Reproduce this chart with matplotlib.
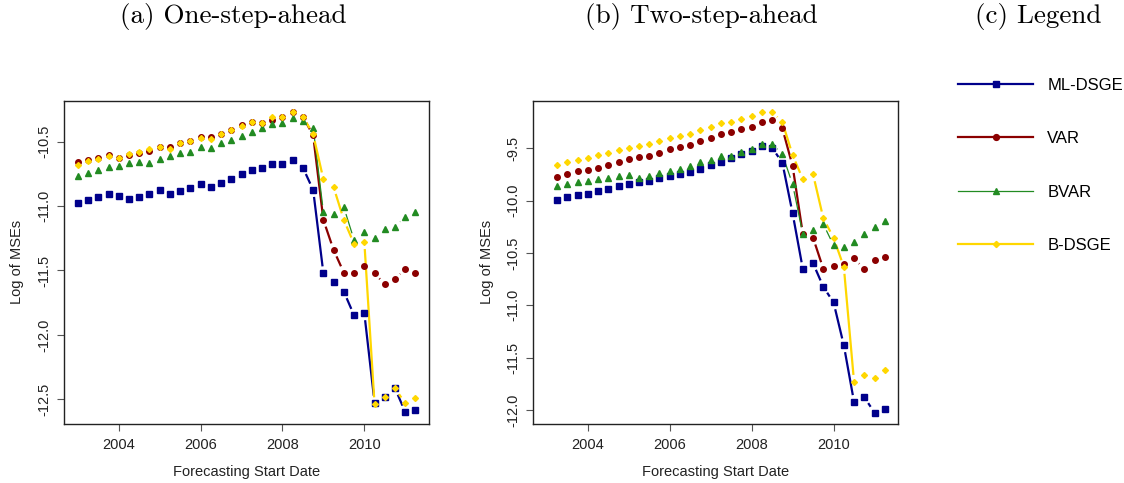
import numpy as np
import matplotlib
matplotlib.use("Agg")
import matplotlib.pyplot as plt
from matplotlib.collections import LineCollection
from matplotlib.lines import Line2D

# quarterly forecast start dates
dates_one = 2003 + 0.25 * np.arange(34)      # 2003Q1 .. 2011Q2
dates_two = 2003.25 + 0.25 * np.arange(33)   # 2003Q2 .. 2011Q2

# (a) one-step-ahead log MSEs
one_ml_dsge = [-10.974, -10.953, -10.927, -10.906, -10.922, -10.943, -10.927, -10.904, -10.875,
               -10.908, -10.880, -10.857, -10.828, -10.854, -10.823, -10.790, -10.753, -10.717,
               -10.702, -10.673, -10.673, -10.644, -10.702, -10.875, -11.522, -11.592, -11.665,
               -11.848, -11.832, -12.526, -12.480, -12.415, -12.599, -12.585]
one_var = [-10.660, -10.644, -10.629, -10.606, -10.624, -10.603, -10.585, -10.570, -10.539,
           -10.544, -10.513, -10.495, -10.466, -10.466, -10.440, -10.409, -10.373, -10.347,
           -10.355, -10.332, -10.306, -10.267, -10.306, -10.452, -11.108, -11.341, -11.517,
           -11.517, -11.462, -11.522, -11.607, -11.566, -11.488, -11.522]
one_bvar = [-10.766, -10.745, -10.722, -10.696, -10.689, -10.665, -10.658, -10.663, -10.637,
            -10.611, -10.590, -10.578, -10.544, -10.547, -10.513, -10.489, -10.456, -10.427,
            -10.391, -10.365, -10.352, -10.316, -10.339, -10.391, -11.046, -11.059, -11.010,
            -11.263, -11.201, -11.250, -11.180, -11.160, -11.082, -11.044]
one_b_dsge = [-10.679, -10.650, -10.634, -10.614, -10.629, -10.593, -10.580, -10.559, -10.544,
              -10.554, -10.513, -10.497, -10.474, -10.479, -10.443, -10.411, -10.376, -10.349,
              -10.355, -10.311, -10.306, -10.270, -10.306, -10.443, -10.792, -10.854, -11.108,
              -11.294, -11.279, -12.539, -12.480, -12.415, -12.531, -12.492]

# (b) two-step-ahead log MSEs
two_ml_dsge = [-9.994, -9.969, -9.950, -9.937, -9.908, -9.886, -9.863, -9.838, -9.825, -9.813,
               -9.787, -9.762, -9.749, -9.730, -9.698, -9.663, -9.628, -9.596, -9.557, -9.523,
               -9.478, -9.494, -9.638, -10.121, -10.654, -10.599, -10.823, -10.972, -11.381,
               -11.923, -11.878, -12.024, -11.989]
two_var = [-9.777, -9.749, -9.720, -9.711, -9.685, -9.660, -9.631, -9.605, -9.586, -9.571,
           -9.542, -9.510, -9.490, -9.471, -9.433, -9.402, -9.363, -9.344, -9.318, -9.293,
           -9.249, -9.229, -9.309, -9.669, -10.319, -10.355, -10.651, -10.622, -10.609,
           -10.552, -10.651, -10.571, -10.536]
two_bvar = [-9.857, -9.844, -9.825, -9.816, -9.796, -9.787, -9.762, -9.758, -9.787, -9.762,
            -9.733, -9.714, -9.695, -9.669, -9.634, -9.609, -9.574, -9.574, -9.538, -9.507,
            -9.462, -9.456, -9.557, -9.844, -10.319, -10.278, -10.224, -10.427, -10.444,
            -10.393, -10.322, -10.255, -10.198]
two_b_dsge = [-9.660, -9.634, -9.612, -9.590, -9.567, -9.542, -9.519, -9.497, -9.475, -9.456,
              -9.430, -9.404, -9.385, -9.360, -9.325, -9.293, -9.261, -9.249, -9.220, -9.191,
              -9.150, -9.150, -9.249, -9.564, -9.796, -9.749, -10.169, -10.355, -10.632,
              -11.731, -11.667, -11.689, -11.622]

models = ["ML-DSGE", "VAR", "BVAR", "B-DSGE"]
colors = ["#00008B", "#8B0000", "#228B22", "#FFD700"]
markers = ["s", "o", "^", "D"]
msizes = [4.2, 4.0, 4.6, 3.0]
lwidths = [1.6, 1.6, 0.9, 1.6]

x_ticks = [2004, 2006, 2008, 2010]
one_yticks = [-10.5, -11.0, -11.5, -12.0, -12.5]
two_yticks = [-9.5, -10.0, -10.5, -11.0, -11.5, -12.0]

plt.rcParams["font.family"] = ["Liberation Sans", "DejaVu Sans"]
plt.rcParams["font.size"] = 10.5

W, H = 1124, 483
fig = plt.figure(figsize=(W / 100, H / 100), dpi=100)


def px_axes(left, top, right, bottom):
    return fig.add_axes([left / W, 1 - bottom / H, (right - left) / W, (bottom - top) / H])


def gapped_line(ax, x, y, color, lw, gap=7.0):
    # R type="b": segments between points, leaving a gap round each marker
    pts = ax.transData.transform(np.column_stack([x, y]))
    inv = ax.transData.inverted()
    segs = []
    for p, q in zip(pts[:-1], pts[1:]):
        d = q - p
        L = np.hypot(*d)
        if L <= 2 * gap:
            continue
        u = d / L
        segs.append(inv.transform([p + u * gap, q - u * gap]))
    ax.add_collection(LineCollection(segs, colors=color, linewidths=lw, zorder=2))


def panel(ax, dates, series, ylim, yticks):
    ax.set_xlim(2002.67, 2011.58)
    ax.set_ylim(*ylim)
    for s, c, m, ms, lw in zip(series, colors, markers, msizes, lwidths):
        gapped_line(ax, dates, s, c, lw)
        ax.plot(dates, s, linestyle="none", marker=m, ms=ms, color=c, mec=c, zorder=3)
    ax.set_xticks(x_ticks)
    ax.set_xticklabels([str(t) for t in x_ticks])
    ax.set_yticks(yticks)
    ax.set_yticklabels(["%.1f" % t for t in yticks], rotation=90, va="center")
    ax.tick_params(direction="out", length=5, width=0.8, color="#555555", pad=5, labelcolor="#222222")
    ax.tick_params(axis="y", pad=4)
    for sp in ax.spines.values():
        sp.set_linewidth(1.0)
        sp.set_color("#222222")


ax1 = px_axes(64.3, 100.7, 429, 424.3)
panel(ax1, dates_one, [one_ml_dsge, one_var, one_bvar, one_b_dsge], (-12.694, -10.182), one_yticks)

ax2 = px_axes(533.3, 100.7, 898.3, 424.3)
panel(ax2, dates_two, [two_ml_dsge, two_var, two_bvar, two_b_dsge], (-12.136, -9.045), two_yticks)

# axis labels
for cx, lx in [(246.6, 17), (715.8, 487)]:
    fig.text(cx / W, 1 - 472 / H, "Forecasting Start Date", ha="center", va="center", color="#222222")
    fig.text(lx / W, 1 - 262 / H, "Log of MSEs", ha="center", va="center", rotation=90, color="#222222")

# panel captions
for cx, txt in [(233, "(a) One-step-ahead"), (701, "(b) Two-step-ahead"), (1038, "(c) Legend")]:
    fig.text(cx / W, 1 - 16 / H, txt, ha="center", va="center", family="cmr10", fontsize=19.5)

# legend panel
handles = [Line2D([], [], color=c, lw=lw, marker=m, ms=ms * 1.05, mec=c)
           for c, m, ms, lw in zip(colors, markers, msizes, lwidths)]
fig.legend(handles, models, loc="upper left", bbox_to_anchor=(958 / W, 1 - 78 / H),
           frameon=False, numpoints=1, handlelength=4.5, handletextpad=0.85,
           labelspacing=2.3, borderpad=0, borderaxespad=0, fontsize=12)

fig.savefig("out.png", dpi=100)
